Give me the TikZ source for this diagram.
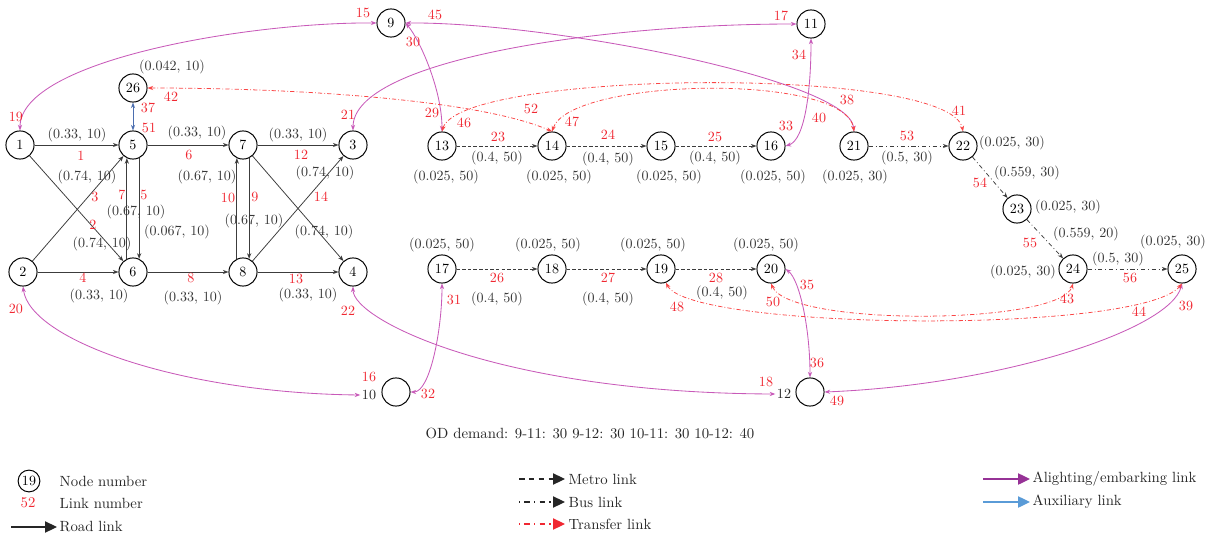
\documentclass[tikz,border=0pt]{standalone}
\usetikzlibrary{arrows.meta,calc}
\definecolor{numred}{RGB}{240,40,50}
\definecolor{labgray}{RGB}{55,55,55}
\definecolor{roadgray}{RGB}{60,60,60}
\definecolor{alightc}{RGB}{200,90,185}
\definecolor{alightleg}{RGB}{150,50,150}
\definecolor{auxblue}{RGB}{75,110,175}
\definecolor{auxleg}{RGB}{90,155,215}
\definecolor{trred}{RGB}{250,70,70}
\tikzset{
  >={Stealth[length=4pt,width=3pt]},
  nd/.style={circle,draw=black,line width=0.7pt,minimum size=20pt,inner sep=0pt,text=black,font=\fontsize{10}{12}\selectfont},
  lab/.style={text=labgray,inner sep=1pt,font=\fontsize{10}{12}\selectfont},
  num/.style={text=numred,inner sep=1pt,font=\fontsize{10}{12}\selectfont},
  legtxt/.style={text=black!85,anchor=west,inner sep=1pt,font=\fontsize{10.5}{12}\selectfont},
  road/.style={draw=roadgray,line width=0.55pt,->},
  metro/.style={draw=roadgray,line width=0.55pt,dash pattern=on 2.5pt off 1.5pt,->},
  bus/.style={draw=roadgray,line width=0.55pt,dash pattern=on 3pt off 2pt on 0.6pt off 2pt,->},
  transfer/.style={draw=trred,line width=0.55pt,dash pattern=on 3pt off 1.5pt on 0.6pt off 1.5pt,<->},
  alight/.style={draw=alightc,line width=0.6pt,<->},
  aux/.style={draw=auxblue,line width=0.7pt,<->},
  legtip/.style={-{Triangle[length=8.5pt,width=8pt]}}
}
\begin{document}
\begin{tikzpicture}[x=0.025cm,y=-0.025cm]
\useasboundingbox (0,0) rectangle (1214,537);

% ---------- nodes ----------
\node[nd] (n1) at (20,145) {1};
\node[nd] (n2) at (23,272) {2};
\node[nd] (n5) at (133,145) {5};
\node[nd] (n6) at (133,272) {6};
\node[nd] (n7) at (243,145) {7};
\node[nd] (n8) at (243,272) {8};
\node[nd] (n3) at (353,145) {3};
\node[nd] (n4) at (353,272) {4};
\node[nd] (n26) at (133,88) {26};
\node[nd] (n9) at (391,23) {9};
\node[nd] (n11) at (811,24) {11};
\node[nd] (n13) at (442,146) {13};
\node[nd] (n14) at (552,146) {14};
\node[nd] (n15) at (661,146) {15};
\node[nd] (n16) at (771,146) {16};
\node[nd] (n21) at (854,146) {21};
\node[nd] (n22) at (963,146) {22};
\node[nd] (n23) at (1017,209) {23};
\node[nd] (n24) at (1073,269) {24};
\node[nd] (n25) at (1182,269) {25};
\node[nd] (n17) at (442,269) {17};
\node[nd] (n18) at (552,269) {18};
\node[nd] (n19) at (661,269) {19};
\node[nd] (n20) at (771,269) {20};
\node[nd] (n10) at (396,392) {};
\node[nd] (n12) at (810,392) {};
\node[lab,text=black!85] (l10) at (369,395) {10};
\node[lab,text=black!85] (l12) at (784,394) {12};

% ---------- road links ----------
\draw[road] (n1) -- (n5);
\draw[road] (n1) -- (n6);
\draw[road] (n2) -- (n5);
\draw[road] (n2) -- (n6);
\draw[road] (n5.295) -- (n6.65);
\draw[road] (n6.115) -- (n5.245);
\draw[road] (n5) -- (n7);
\draw[road] (n6) -- (n8);
\draw[road] (n7.295) -- (n8.65);
\draw[road] (n8.115) -- (n7.245);
\draw[road] (n7) -- (n3);
\draw[road] (n7) -- (n4);
\draw[road] (n8) -- (n3);
\draw[road] (n8) -- (n4);

% ---------- auxiliary ----------
\draw[aux] (n26) -- (n5);

% ---------- metro ----------
\draw[metro] (n13) -- (n14);
\draw[metro] (n14) -- (n15);
\draw[metro] (n15) -- (n16);
\draw[metro] (n17) -- (n18);
\draw[metro] (n18) -- (n19);
\draw[metro] (n19) -- (n20);

% ---------- bus ----------
\draw[bus] (n21) -- (n22);
\draw[bus] (n22) -- (n23);
\draw[bus] (n23) -- (n24);
\draw[bus] (n24) -- (n25);

% ---------- alighting / embarking ----------
\draw[alight] (n1.north) .. controls (20,60) and (250,22) .. (n9.west);
\draw[alight] (n9.east) .. controls (550,22) and (850,80) .. (n21.north);
\draw[alight] (n9.east) .. controls (420,40) and (442,90) .. (n13.north);
\draw[alight] (n11.west) .. controls (600,24) and (353,60) .. (n3.north);
\draw[alight] (n11.south) .. controls (811,90) and (805,140) .. (n16.east);
\draw[alight] (n2.south) .. controls (30,340) and (180,393) .. (l10.west);
\draw[alight] (n4.south) .. controls (353,320) and (500,393) .. (l12.west);
\draw[alight] (n17.south) .. controls (442,330) and (430,392) .. (n10.east);
\draw[alight] (n20.east) .. controls (800,280) and (810,330) .. (n12.north);
\draw[alight] (n25.south) .. controls (1170,330) and (1000,385) .. (n12.east);

% ---------- transfer ----------
\draw[transfer] (n26.east) .. controls (300,88) and (480,100) .. (n14.north);
\draw[transfer] (n13.north) .. controls (460,70) and (950,65) .. (n22.north);
\draw[transfer] (n14.north) .. controls (570,78) and (845,72) .. (n21.north);
\draw[transfer] (n19.-70) .. controls (690,330) and (1140,335) .. (n25.south);
\draw[transfer] (n20.south) .. controls (790,327) and (1060,325) .. (n24.south);

% ---------- road labels ----------
\node[lab] (a1) at (77,135) {(0.33, 10)};
\node[lab] (a6) at (197,133) {(0.33, 10)};
\node[lab] (a12) at (298,135) {(0.33, 10)};
\node[lab] (a3) at (87,177) {(0.74, 10)};
\node[lab] (a7) at (136,212) {(0.67, 10)};
\node[lab] (a5) at (177,232) {(0.067, 10)};
\node[lab] (a2) at (102,244) {(0.74, 10)};
\node[lab] (a10) at (207,177) {(0.67, 10)};
\node[lab] (a9) at (254,221) {(0.67, 10)};
\node[lab] (a14) at (325,173) {(0.74, 10)};
\node[lab] (a11) at (324,232) {(0.74, 10)};
\node[lab] (a4) at (99,296) {(0.33, 10)};
\node[lab] (a8) at (193,298) {(0.33, 10)};
\node[lab] (a13) at (308,295) {(0.33, 10)};
\node[lab] (a26) at (172,67) {(0.042, 10)};

% ---------- metro / bus labels ----------
\node[lab] (m23) at (497,158) {(0.4, 50)};
\node[lab] (m24) at (608,159) {(0.4, 50)};
\node[lab] (m25) at (715,158) {(0.4, 50)};
\node[lab] (s13) at (446,177) {(0.025, 50)};
\node[lab] (s14) at (559,177) {(0.025, 50)};
\node[lab] (s15) at (669,177) {(0.025, 50)};
\node[lab] (s16) at (773,177) {(0.025, 50)};
\node[lab] (s21) at (855,177) {(0.025, 30)};
\node[lab] (b53) at (907,158) {(0.5, 30)};
\node[lab] (s22) at (1012,143) {(0.025, 30)};
\node[lab] (b54) at (1027,173) {(0.559, 30)};
\node[lab] (s23) at (1068,207) {(0.025, 30)};
\node[lab] (b55) at (1086,234) {(0.559, 20)};
\node[lab] (s24) at (1023,272) {(0.025, 30)};
\node[lab] (b56) at (1118,259) {(0.5, 30)};
\node[lab] (s25) at (1173,242) {(0.025, 30)};
\node[lab] (s17) at (442,245) {(0.025, 50)};
\node[lab] (s18) at (548,245) {(0.025, 50)};
\node[lab] (s19) at (653,245) {(0.025, 50)};
\node[lab] (s20) at (766,245) {(0.025, 50)};
\node[lab] (m26) at (497,299) {(0.4, 50)};
\node[lab] (m27) at (608,299) {(0.4, 50)};
\node[lab] (m28) at (722,293) {(0.4, 50)};

% ---------- link numbers ----------
\node[num] (k1) at (81,156) {1};
\node[num] (k2) at (93,225) {2};
\node[num] (k3) at (95,197) {3};
\node[num] (k4) at (83,278) {4};
\node[num] (k5) at (144,195) {5};
\node[num] (k6) at (189,155) {6};
\node[num] (k7) at (122,195) {7};
\node[num] (k8) at (191,278) {8};
\node[num] (k9) at (255,197) {9};
\node[num] (k10) at (228,198) {10};
\node[num] (k12) at (301,155) {12};
\node[num] (k13) at (296,279) {13};
\node[num] (k14) at (321,197) {14};
\node[num] (k15) at (363,13) {15};
\node[num] (k16) at (369,377) {16};
\node[num] (k17) at (781,16) {17};
\node[num] (k18) at (766,382) {18};
\node[num] (k19) at (16,117) {19};
\node[num] (k20) at (16,309) {20};
\node[num] (k21) at (348,115) {21};
\node[num] (k22) at (348,311) {22};
\node[num] (k23) at (498,137) {23};
\node[num] (k24) at (608,135) {24};
\node[num] (k25) at (715,137) {25};
\node[num] (k26) at (497,278) {26};
\node[num] (k27) at (608,278) {27};
\node[num] (k28) at (716,278) {28};
\node[num] (k29) at (432,113) {29};
\node[num] (k30) at (413,42) {30};
\node[num] (k31) at (454,300) {31};
\node[num] (k32) at (428,394) {32};
\node[num] (k33) at (786,126) {33};
\node[num] (k34) at (799,55) {34};
\node[num] (k35) at (807,285) {35};
\node[num] (k36) at (817,363) {36};
\node[num] (k37) at (148,108) {37};
\node[num] (k38) at (847,100) {38};
\node[num] (k39) at (1186,306) {39};
\node[num] (k40) at (819,118) {40};
\node[num] (k41) at (959,111) {41};
\node[num] (k42) at (171,97) {42};
\node[num] (k43) at (1067,299) {43};
\node[num] (k44) at (1139,312) {44};
\node[num] (k45) at (435,15) {45};
\node[num] (k46) at (464,123) {46};
\node[num] (k47) at (572,122) {47};
\node[num] (k48) at (677,307) {48};
\node[num] (k49) at (837,401) {49};
\node[num] (k50) at (773,302) {50};
\node[num] (k51) at (149,128) {51};
\node[num] (k52) at (531,109) {52};
\node[num] (k53) at (907,136) {53};
\node[num] (k54) at (980,183) {54};
\node[num] (k55) at (1030,243) {55};
\node[num] (k56) at (1130,278) {56};

% ---------- OD demand ----------
\node[lab,text=black!85,font=\fontsize{10.5}{12}\selectfont] (od) at (590,433) {OD demand: 9-11: 30 9-12: 30 10-11: 30 10-12: 40};

% ---------- legend ----------
\node[nd,minimum size=15.5pt] (lg19) at (29,481) {19};
\node[legtxt] (lgt19) at (58,481) {Node number};
\node[num,font=\fontsize{10.5}{12}\selectfont] (lg52) at (28,503) {52};
\node[legtxt] (lgt52) at (58,503) {Link number};
\coordinate (lra) at (11,527);
\coordinate (lrb) at (57,527);
\draw[draw=black!85,line width=0.8pt,legtip] (lra) -- (lrb);
\node[legtxt] (lgtr) at (58,527) {Road link};

\coordinate (lma) at (519,479);
\coordinate (lmb) at (565,479);
\draw[draw=black!85,line width=0.8pt,dash pattern=on 4pt off 3pt,legtip] (lma) -- (lmb);
\node[legtxt] (lgtm) at (567,479) {Metro link};
\coordinate (lba) at (519,502);
\coordinate (lbb) at (565,502);
\draw[draw=black!85,line width=0.8pt,dash pattern=on 0.8pt off 3pt on 4pt off 3pt,legtip] (lba) -- (lbb);
\node[legtxt] (lgtb) at (567,502) {Bus link};
\coordinate (lta) at (519,524);
\coordinate (ltb) at (565,524);
\draw[draw=numred,line width=0.8pt,dash pattern=on 0.8pt off 3pt on 4pt off 3pt,legtip] (lta) -- (ltb);
\node[legtxt] (lgtt) at (567,524) {Transfer link};

\coordinate (laa) at (983,479);
\coordinate (lab) at (1030,479);
\draw[draw=alightleg,line width=1pt,legtip] (laa) -- (lab);
\node[legtxt] (lgta) at (1031,479) {Alighting/embarking link};
\coordinate (lxa) at (983,502);
\coordinate (lxb) at (1030,502);
\draw[draw=auxleg,line width=1pt,legtip] (lxa) -- (lxb);
\node[legtxt] (lgtx) at (1031,502) {Auxiliary link};
\end{tikzpicture}
\end{document}
